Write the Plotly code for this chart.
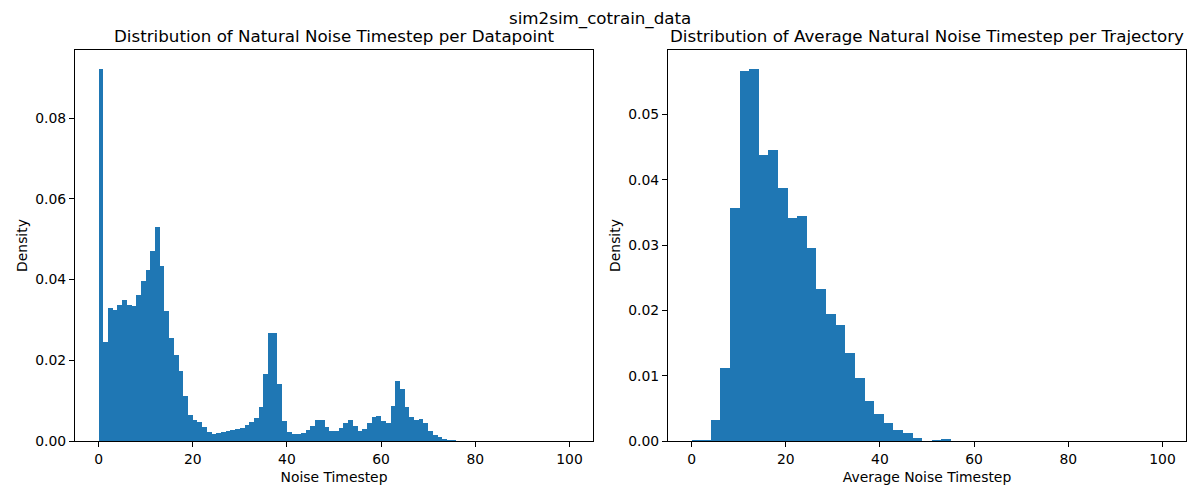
import numpy as np
import plotly.graph_objects as go

# ---------------- data ----------------
suptitle = "sim2sim_cotrain_data"
left_title = "Distribution of Natural Noise Timestep per Datapoint"
right_title = "Distribution of Average Natural Noise Timestep per Trajectory"
left_xlabel = "Noise Timestep"
right_xlabel = "Average Noise Timestep"
ylabel = "Density"

# left histogram: 100 bins over [0, 100]
left_bin_count = 100
left_density = [
    0.0921, 0.0245, 0.0329, 0.0324, 0.0337, 0.0349, 0.0337, 0.0334, 0.0362, 0.0396,
    0.0424, 0.0471, 0.0530, 0.0434, 0.0322, 0.0255, 0.0213, 0.0173, 0.0111, 0.0064,
    0.0052, 0.0047, 0.0035, 0.0022, 0.0017, 0.0020, 0.0022, 0.0025, 0.0027, 0.0030,
    0.0032, 0.0040, 0.0047, 0.0057, 0.0084, 0.0166, 0.0267, 0.0267, 0.0141, 0.0050,
    0.0022, 0.0017, 0.0017, 0.0020, 0.0027, 0.0037, 0.0052, 0.0052, 0.0035, 0.0025,
    0.0025, 0.0032, 0.0045, 0.0052, 0.0037, 0.0025, 0.0030, 0.0045, 0.0059, 0.0062,
    0.0050, 0.0045, 0.0087, 0.0149, 0.0129, 0.0084, 0.0059, 0.0052, 0.0054, 0.0045,
    0.0025, 0.0015, 0.0010, 0.0004, 0.0002, 0.0002, 0.0, 0.0, 0.0, 0.0,
    0.0, 0.0, 0.0, 0.0, 0.0, 0.0, 0.0, 0.0, 0.0, 0.0,
    0.0, 0.0, 0.0, 0.0, 0.0, 0.0, 0.0, 0.0, 0.0, 0.0,
]

# right histogram: 49 bins over [0, 100]
right_bin_count = 49
right_density = [
    0.0001, 0.0001, 0.0032, 0.0111, 0.0357, 0.0567, 0.0570, 0.0438, 0.0446, 0.0388,
    0.0342, 0.0345, 0.0296, 0.0233, 0.0195, 0.0177, 0.0135, 0.0097, 0.0062, 0.0042,
    0.0028, 0.0017, 0.0013, 0.0004, 0.0, 0.0001, 0.0003, 0.0, 0.0, 0.0,
    0.0, 0.0, 0.0, 0.0, 0.0, 0.0, 0.0, 0.0, 0.0, 0.0,
    0.0, 0.0, 0.0, 0.0, 0.0, 0.0, 0.0, 0.0, 0.0,
]

x_ticks = [0, 20, 40, 60, 80, 100]
left_y_ticks = [0.00, 0.02, 0.04, 0.06, 0.08]
right_y_ticks = [0.00, 0.01, 0.02, 0.03, 0.04, 0.05]

# ---------------- figure ----------------
BLUE = "#1f77b4"
FONT = "DejaVu Sans"


def bars(density, nbins, xa, ya):
    edges = np.linspace(0, 100, nbins + 1)
    centers = (edges[:-1] + edges[1:]) / 2
    widths = np.diff(edges)
    return go.Bar(
        x=centers, y=density, width=widths,
        marker=dict(color=BLUE, line=dict(width=0)),
        xaxis=xa, yaxis=ya, showlegend=False, hoverinfo="x+y",
    )


fig = go.Figure()
fig.add_trace(bars(left_density, left_bin_count, "x", "y"))
fig.add_trace(bars(right_density, right_bin_count, "x2", "y2"))

W, H = 1200, 500
lx0, lx1 = 75, 593
rx0, rx1 = 668, 1186
ytop, ybot = 50, 441

axis_common = dict(
    showline=True, linecolor="black", linewidth=1.1, mirror=True,
    ticks="outside", ticklen=5, tickwidth=1.1, tickcolor="black",
    showgrid=False, zeroline=False, automargin=False,
    tickfont=dict(family=FONT, size=13.9, color="black"),
    title_font=dict(family=FONT, size=13.9, color="black"),
)

fig.update_layout(
    width=W, height=H,
    margin=dict(l=0, r=0, t=0, b=0, pad=0, autoexpand=False),
    paper_bgcolor="white", plot_bgcolor="white",
    bargap=0,
    font=dict(family=FONT, color="black"),
    xaxis=dict(domain=[lx0 / W, lx1 / W], range=[-5, 105], tickvals=x_ticks,
               title=dict(text=left_xlabel, standoff=6), anchor="y", **axis_common),
    yaxis=dict(domain=[1 - ybot / H, 1 - ytop / H], range=[0, 0.09685],
               tickvals=left_y_ticks, tickformat=".2f",
               title=dict(text=ylabel, standoff=4), anchor="x", **axis_common),
    xaxis2=dict(domain=[rx0 / W, rx1 / W], range=[-5, 105], tickvals=x_ticks,
                title=dict(text=right_xlabel, standoff=6), anchor="y2", **axis_common),
    yaxis2=dict(domain=[1 - ybot / H, 1 - ytop / H], range=[0, 0.05985],
                tickvals=right_y_ticks, tickformat=".2f",
                title=dict(text=ylabel, standoff=4), anchor="x2", **axis_common),
    annotations=[
        dict(text=suptitle, x=0.5, y=1 - 18 / H, xref="paper", yref="paper",
             xanchor="center", yanchor="middle", showarrow=False,
             font=dict(family=FONT, size=16.7, color="black")),
        dict(text=left_title, x=(lx0 + lx1) / 2 / W, y=1 - 36 / H, xref="paper", yref="paper",
             xanchor="center", yanchor="middle", showarrow=False,
             font=dict(family=FONT, size=16.7, color="black")),
        dict(text=right_title, x=(rx0 + rx1) / 2 / W, y=1 - 36 / H, xref="paper", yref="paper",
             xanchor="center", yanchor="middle", showarrow=False,
             font=dict(family=FONT, size=16.7, color="black")),
    ],
)

page_fix = (
    "var d=document.documentElement,b=document.body;"
    "[d,b].forEach(function(e){e.style.margin='0';e.style.padding='0';"
    "e.style.overflow='hidden';e.style.height='500px';});"
    "var g=document.getElementById('{plot_id}');g.style.display='block';"
    "if(g.parentNode){g.parentNode.style.height='500px';g.parentNode.style.overflow='hidden';}"
)

fig.write_html(
    "out.html",
    config={"displayModeBar": False},
    post_script=page_fix,
)
